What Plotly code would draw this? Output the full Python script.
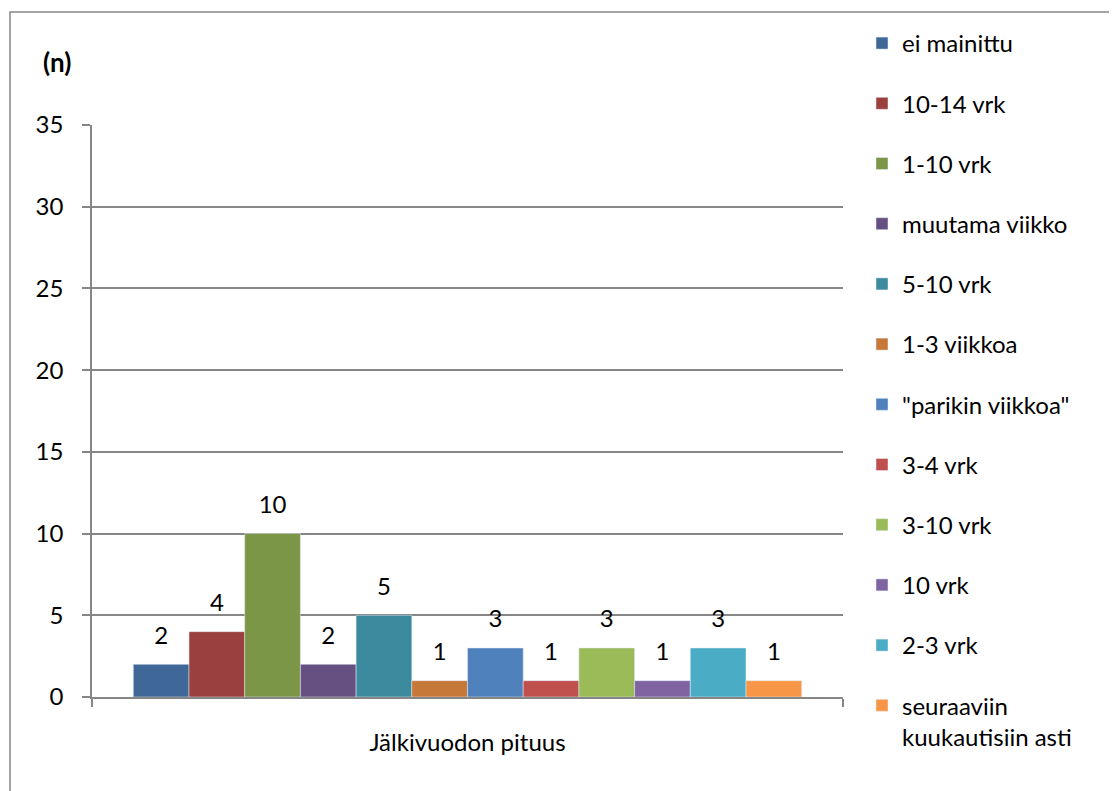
import plotly.graph_objects as go

category = ["Jälkivuodon pituus"]
series_names = ["ei mainittu", "10-14 vrk", "1-10 vrk", "muutama viikko", "5-10 vrk",
                "1-3 viikkoa", "\"parikin viikkoa\"", "3-4 vrk", "3-10 vrk", "10 vrk",
                "2-3 vrk", "seuraaviin<br>kuukautisiin asti"]
series_values = [2, 4, 10, 2, 5, 1, 3, 1, 3, 1, 3, 1]
series_colors = ["#3F6797", "#9A403E", "#7C9647", "#665082", "#3C8A9E", "#C67838",
                 "#4F81BD", "#C0504D", "#9BBB59", "#8064A2", "#4BACC6", "#F79646"]
y_ticks = [0, 5, 10, 15, 20, 25, 30, 35]

FONT = "Lato"
FS = 24
GRID = "#868686"
GAP = 0.11

fig = go.Figure()
for i, (name, val, col) in enumerate(zip(series_names, series_values, series_colors)):
    fig.add_trace(go.Bar(
        x=category, y=[val], name=name, marker_color=col,
        legendgroup="g%d" % i, hoverinfo="skip",
    ))
for i, val in enumerate(series_values):
    fig.add_trace(go.Scatter(
        x=category, y=[val], mode="markers+text", text=[str(val)],
        textposition="top center", cliponaxis=False, showlegend=False,
        marker=dict(size=22, color="rgba(0,0,0,0)"),
        textfont=dict(family=FONT, size=FS, color="#000000"),
        hoverinfo="skip",
    ))

# page offset of the plot div (body margin)
OFF = 8
W, H = 1117 - OFF, 791 - OFF
L, R, T, B = 92 - OFF, 1117 - 843, 125 - OFF, 791 - 697
pw, ph = W - L - R, H - T - B

def px(x):
    return (x - OFF - L) / pw

def py(y):
    return (H - B - (y - OFF)) / ph

fig.update_layout(
    width=W, height=H,
    margin=dict(l=L, r=R, t=T, b=B, pad=0),
    paper_bgcolor="white", plot_bgcolor="white",
    barmode="group", bargap=GAP, bargroupgap=0,
    scattermode="group", scattergap=GAP,
    font=dict(family=FONT, size=FS, color="#000000"),
    showlegend=True,
    legend=dict(x=px(862), xanchor="left", y=py(21), yanchor="top",
                tracegroupgap=26, valign="top", maxheight=900,
                font=dict(family=FONT, size=FS, color="#000000"),
                bgcolor="rgba(0,0,0,0)"),
    xaxis=dict(range=[-0.5, 0.5], showline=True, linecolor=GRID, linewidth=1.5,
               ticks="outside", tickson="boundaries", ticklen=8, tickcolor=GRID,
               tickwidth=1.5, showgrid=False, ticklabelstandoff=23,
               tickfont=dict(family=FONT, size=FS, color="#000000")),
    yaxis=dict(range=[0, 35], tickvals=y_ticks, showline=True, linecolor=GRID,
               linewidth=1.5, ticks="outside", ticklen=8, tickcolor=GRID, tickwidth=1.5,
               showgrid=True, gridcolor=GRID, gridwidth=1.5, zeroline=False,
               ticklabelstandoff=14,
               tickfont=dict(family=FONT, size=FS, color="#000000")),
    shapes=[dict(type="rect", xref="paper", yref="paper",
                 x0=px(10), x1=px(1300), y0=py(1000), y1=py(12),
                 line=dict(color=GRID, width=1.5), fillcolor="rgba(0,0,0,0)",
                 layer="below")],
    annotations=[dict(text="<b>(n)</b>", xref="paper", yref="paper",
                      x=px(41), xanchor="left", y=py(62), yanchor="middle",
                      showarrow=False, font=dict(family=FONT, size=26, color="#000000"))],
)

fig.write_html("out.html")
